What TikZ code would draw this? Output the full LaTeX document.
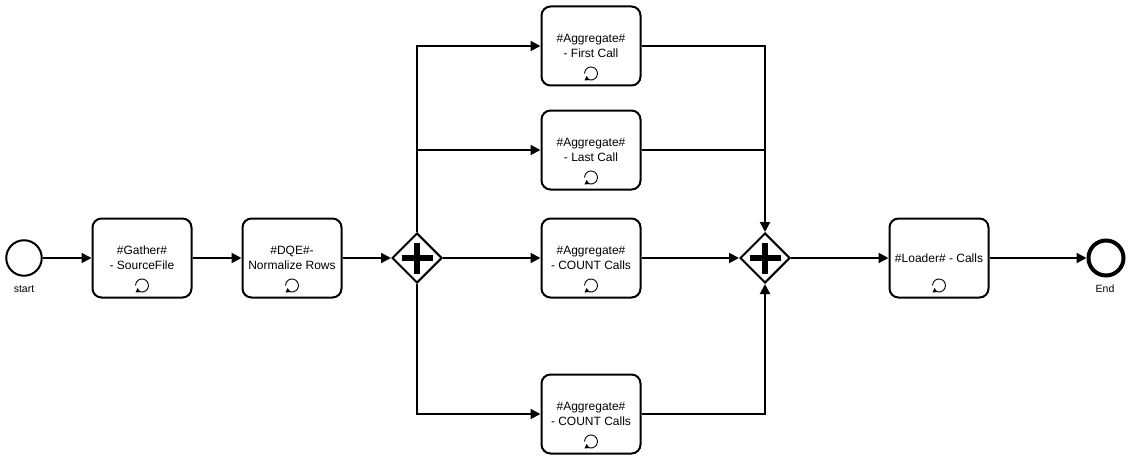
\documentclass[tikz,border=0pt]{standalone}
\usepackage{fontspec}
\setmainfont{Liberation Sans}
\usetikzlibrary{arrows.meta,shapes.geometric,calc}
\tikzset{
  x=1pt,y=-1pt,
  flow/.style={line width=2pt,-{Triangle[length=10pt,width=10pt]}},
  taskbox/.style={draw,line width=2pt,rounded corners=9pt,minimum width=99pt,minimum height=79pt,
    align=center,inner sep=0pt,font=\fontsize{12}{15}\selectfont},
  gate/.style={draw,line width=2pt,diamond,aspect=1,minimum size=50pt,inner sep=0pt},
  startev/.style={draw,line width=2pt,circle,minimum size=35.5pt,inner sep=0pt},
  endev/.style={draw,line width=4pt,circle,minimum size=35pt,inner sep=0pt},
  evlabel/.style={font=\fontsize{10.5}{12}\selectfont,inner sep=0pt},
  plusmark/.pic={\draw[line width=6pt] (-15.5,0) -- (15.5,0) (0,-15.5) -- (0,15.5);},
  loopmark/.pic={
    \draw[line width=0.9pt] (-3.5,5.5) arc[start angle=122,end angle=-180,radius=6.5pt,x radius=6.5pt,y radius=-6.5pt];
    \fill (-6.5,7) -- (-1.5,6.5) -- (-4.5,2.5) -- cycle;
  },
}
\begin{document}
\begin{tikzpicture}
\useasboundingbox (0,0) rectangle (1130,460);
\node[startev] (start) at (24,258) {};
\node[evlabel] (startlabel) at (24,289) {start};
\node[taskbox] (gather) at (142,258) {\#Gather\#\\- SourceFile};
\node[taskbox] (dqe) at (292,258) {\#DQE\#-\\Normalize Rows};
\node[gate] (split) at (417,258) {};
\node[taskbox] (first) at (591,46) {\#Aggregate\#\\- First Call};
\node[taskbox] (last) at (591,150) {\#Aggregate\#\\- Last Call};
\node[taskbox] (countmid) at (591,258) {\#Aggregate\#\\- COUNT Calls};
\node[taskbox] (countlow) at (591,414) {\#Aggregate\#\\- COUNT Calls};
\node[gate] (join) at (765,258) {};
\node[taskbox] (loader) at (939,258) {\#Loader\# - Calls};
\node[endev] (end) at (1106,258) {};
\node[evlabel] (endlabel) at (1105,289) {End};

% gateway symbols
\pic at (split.center) {plusmark};
\pic at (join.center) {plusmark};

% loop markers at the foot of each task
\foreach \t in {gather,dqe,first,last,countmid,countlow,loader}
  \pic at ($(\t.center)+(0,27.5)$) {loopmark};

% sequence flows
\draw[flow] (start) -- (gather);
\draw[flow] (gather) -- (dqe);
\draw[flow] (dqe) -- (split);
\draw[flow] (split.north) |- (first.west);
\draw[flow] (split.north) |- (last.west);
\draw[flow] (split) -- (countmid);
\draw[flow] (split.south) |- (countlow.west);
\draw[flow] (first.east) -| (join.north);
\draw[line width=2pt] (last.east) -| ($(join.north)+(0,-40)$);
\draw[flow] (countmid) -- (join);
\draw[flow] (countlow.east) -| (join.south);
\draw[flow] (join) -- (loader);
\draw[flow] (loader) -- (end);
\end{tikzpicture}
\end{document}
